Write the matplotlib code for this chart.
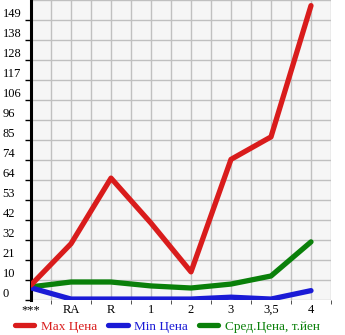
import matplotlib
matplotlib.use("Agg")
import matplotlib.pyplot as plt
import numpy as np
from matplotlib.lines import Line2D

categories = ["***", "RA", "R", "1", "2", "3", "3,5", "4"]
max_price = [8, 30, 65, 41, 15, 75, 87, 157]
min_price = [6.5, 0.5, 0.5, 0.5, 0.5, 1.5, 0.5, 5]
avg_price = [7, 9.6, 9.6, 7.5, 6.4, 8.5, 12.8, 31]
y_ticks = [0, 10.67, 21.33, 32, 42.67, 53.33, 64, 74.67, 85.33, 96, 106.67, 117.33, 128, 138.67, 149.33]
y_labels = ["0", "10", "21", "32", "42", "53", "64", "74", "85", "96", "106", "117", "128", "138", "149"]
legend_labels = ["Max Цена", "Min Цена", "Сред.Цена, т.йен"]

W, H = 345, 335
fig = plt.figure(figsize=(W/100, H/100), dpi=100)
ax = fig.add_axes([31/W, (H-300)/H, 300/W, 300/H])
ax.set_facecolor("#f6f6f6")

x = np.arange(len(categories))
red, blue, green = "#d91c1c", "#1a1ad6", "#0a800a"
lw = 3.8
ax.plot(x, avg_price, color=green, lw=lw, solid_capstyle="round", solid_joinstyle="round", zorder=3)
ax.plot(x, min_price, color=blue, lw=lw, solid_capstyle="round", solid_joinstyle="round", zorder=4)
ax.plot(x, max_price, color=red, lw=lw, solid_capstyle="round", solid_joinstyle="round", zorder=5)

ax.set_xlim(0, 7.5)
ax.set_ylim(0, 160)

for gx in np.arange(0, 7.51, 0.5):
    ax.axvline(gx, color="#c0c0c0", lw=1, zorder=1)
for gy in y_ticks + [160]:
    ax.axhline(gy, color="#c0c0c0", lw=1, zorder=1)

font = "Liberation Serif"
ax.set_yticks(y_ticks)
ax.set_yticklabels(y_labels, fontsize=9, family=font, va="bottom", ha="left")
ax.set_xticks(x)
ax.set_xticklabels(categories, fontsize=9, family=font)
ax.set_xticks(np.arange(0.5, 7.6, 1), minor=True)
ax.tick_params(axis="x", which="major", length=0, pad=3)
ax.tick_params(axis="x", which="minor", length=3, color="#333333")
ax.tick_params(axis="y", length=4, width=1, color="#000000", pad=16.5)

for side in ["top", "right", "bottom"]:
    ax.spines[side].set_visible(False)
ax.spines["left"].set_linewidth(2.2)
ax.spines["left"].set_color("black")

handles = [Line2D([0], [0], color=c, lw=lw, solid_capstyle="round") for c in (red, blue, green)]
leg = fig.legend(handles, legend_labels, loc="lower center", bbox_to_anchor=(0.485, 0.0), ncol=3,
                 frameon=False, prop={"family": font, "size": 9.5}, handlelength=1.5,
                 handletextpad=0.5, columnspacing=0.8, borderaxespad=0, borderpad=0.15)
for t, c in zip(leg.get_texts(), (red, blue, green)):
    t.set_color(c)

fig.savefig("out.png", dpi=100)
